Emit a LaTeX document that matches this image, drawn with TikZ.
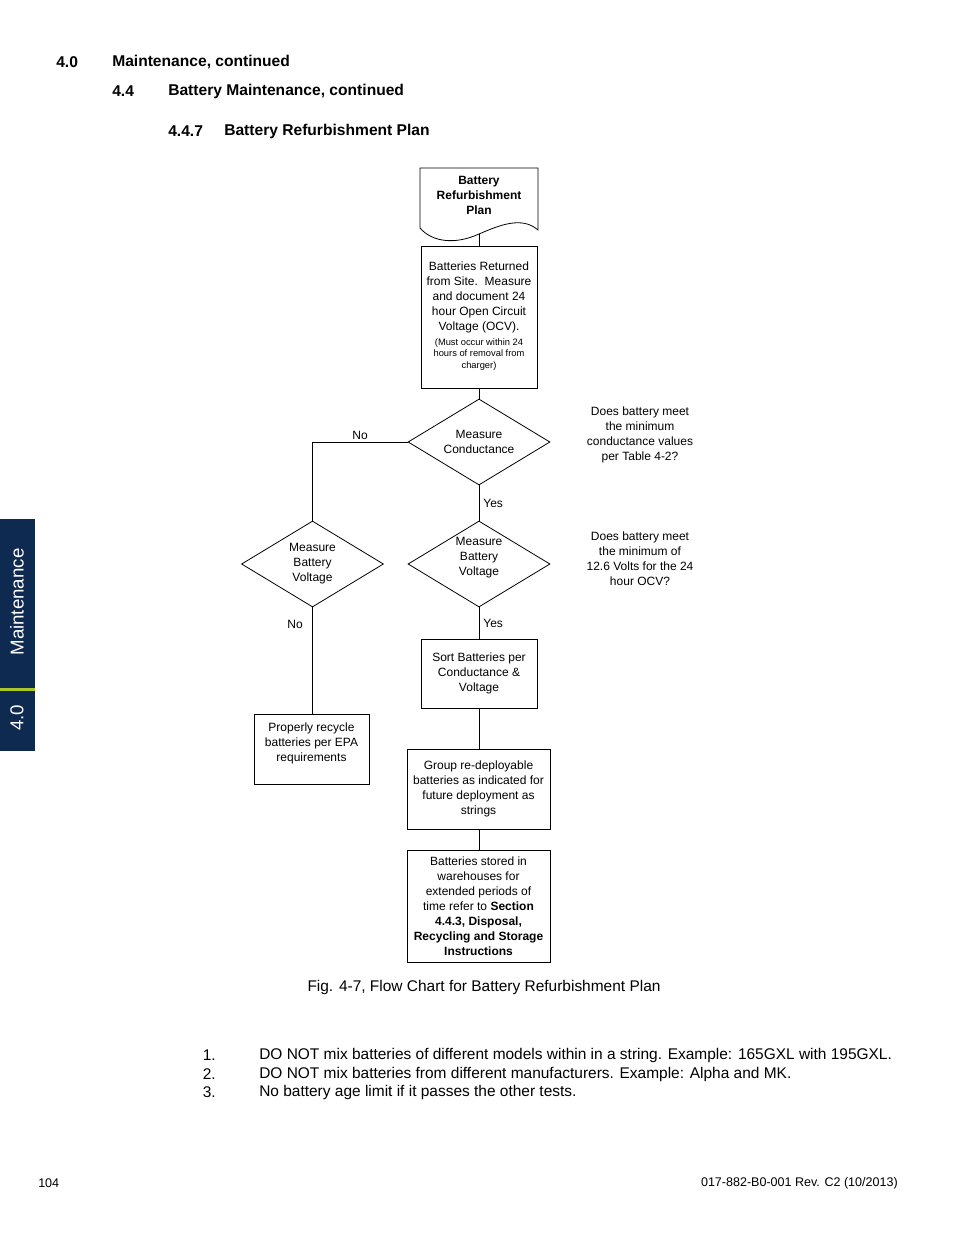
\documentclass[tikz,border=0pt]{standalone}
\usepackage{fontspec}
\setmainfont{Liberation Sans}
\usepackage{tikz}
\usetikzlibrary{positioning,shapes.geometric,calc}
\definecolor{TabNavy}{RGB}{14,42,80}
\definecolor{TabLime}{RGB}{172,200,40}

\begin{document}
\begin{tikzpicture}[x=0.75pt,y=-0.75pt,
  every node/.style={inner sep=0pt},
  head/.style={anchor=west, font=\fontsize{11.7}{13.5}\selectfont\bfseries},
  body/.style={font=\fontsize{11.6}{13.5}\selectfont},
  chart/.style={font=\fontsize{9}{11.25}\selectfont, align=center},
  procbox/.style={chart, draw, line width=0.6pt},
  decision/.style={chart, draw, line width=0.6pt, diamond, aspect=1.65,
                   minimum width=106.5pt, minimum height=64.5pt},
  flow/.style={line width=0.6pt},
  tabtext/.style={text=white, font=\fontsize{14}{16}\selectfont, rotate=90}
]
\useasboundingbox (0,0) rectangle (954,1235);

\node[head] (secnum) at (56,62) {4.0};
\node[head] (sectitle) at (112,62) {Maintenance, continued};
\node[head] (subnum) at (112,91) {4.4};
\node[head] (subtitle) at (168,91) {Battery Maintenance, continued};
\node[head] (subsubnum) at (168,131) {4.4.7};
\node[head] (subsubtitle) at (224,131) {Battery Refurbishment Plan};

\fill[TabNavy] (0,519) rectangle (35,751);
\fill[TabLime] (0,688) rectangle (35,691);
\node[tabtext] (tabtitle) at (17,602) {Maintenance};
\node[tabtext] (tabnum) at (17,718) {4.0};

\draw[flow] (420,228) -- (420,168) -- (538,168) -- (538,230)
  .. controls (522,216) and (500,225) .. (479,234)
  .. controls (455,245) and (432,242) .. (420,228);
\node[chart, font=\fontsize{9}{11.25}\selectfont\bfseries] (plan) at (479,195.5)
  {Battery\\Refurbishment\\Plan};
\coordinate (planfoot) at (479,234);

\node[procbox, minimum width=87pt, minimum height=106.5pt] (returned) at (479,317)
  {Batteries Returned\\from Site.\ \ Measure\\and document 24\\hour Open Circuit\\Voltage (OCV).\\[2pt]
   {\fontsize{7}{8.6}\selectfont\begin{tabular}{@{}c@{}}(Must occur within 24\\hours of removal from\\charger)\end{tabular}}};

\node[decision] (conduct) at (479,442) {Measure\\Conductance};
\node[decision, label={[chart, yshift=5pt]center:{Measure\\Battery\\Voltage}}] (voltright) at (479,564) {};
\node[decision] (voltleft) at (312.5,564) {Measure\\Battery\\Voltage};

\node[procbox, minimum width=87pt, minimum height=51.75pt] (sortbox) at (479,673.5)
  {Sort Batteries per\\Conductance \&\\Voltage};
\node[procbox, minimum width=107.25pt, minimum height=60pt] (group) at (478.5,789)
  {Group re-deployable\\batteries as indicated for\\future deployment as\\strings};
\node[procbox, minimum width=107.25pt, minimum height=84pt] (stored) at (478.5,906)
  {Batteries stored in\\warehouses for\\extended periods of\\time refer to \textbf{Section}\\
   \textbf{4.4.3, Disposal,}\\\textbf{Recycling and Storage}\\\textbf{Instructions}};
\node[procbox, minimum width=86.25pt, minimum height=52.5pt] (recycle) at (311.5,749)
  {Properly recycle\\batteries per EPA\\requirements\\[-1pt]};

\node[chart] (askcond) at (640,435)
  {Does battery meet\\the minimum\\conductance values\\per Table 4-2?};
\node[chart] (askvolt) at (640,559)
  {Does battery meet\\the minimum of\\12.6 Volts for the 24\\hour OCV?};

\draw[flow] (planfoot) -- (returned.north);
\draw[flow] (returned.south) -- (conduct.north);
\draw[flow] (conduct.west) -| node[chart, above=1.5pt, pos=0.25] (nocond) {No} (voltleft.north);
\draw[flow] (conduct.south) -- node[chart, right=3pt] (yescond) {Yes} (voltright.north);
\draw[flow] (voltright.south) -- node[chart, right=3pt] (yesvolt) {Yes} (sortbox.north);
\draw[flow] (voltleft.south) -- node[chart, left=7pt, pos=0.16] (novolt) {No} (voltleft.south |- recycle.north);
\draw[flow] (sortbox.south) -- (sortbox.south |- group.north);
\draw[flow] (group.south -| sortbox.south) -- (sortbox.south |- stored.north);

\node[body] (caption) at (484,987) {Fig. 4-7, Flow Chart for Battery Refurbishment Plan};

\node[body, anchor=east] (itemone) at (216,1055) {1.};
\node[body, anchor=west] (noteone) at (259,1055) {DO NOT mix batteries of different models within in a string. Example: 165GXL with 195GXL.};
\node[body, anchor=east] (itemtwo) at (216,1074) {2.};
\node[body, anchor=west] (notetwo) at (259,1074) {DO NOT mix batteries from different manufacturers. Example: Alpha and MK.};
\node[body, anchor=east] (itemthree) at (216,1092) {3.};
\node[body, anchor=west] (notethree) at (259,1092) {No battery age limit if it passes the other tests.};

\node[anchor=west, font=\fontsize{9.4}{11}\selectfont] (pagenum) at (38,1183) {104};
\node[anchor=east, font=\fontsize{9.4}{11}\selectfont] (docref) at (898,1183) {017-882-B0-001 Rev. C2 (10/2013)};
\end{tikzpicture}
\end{document}
